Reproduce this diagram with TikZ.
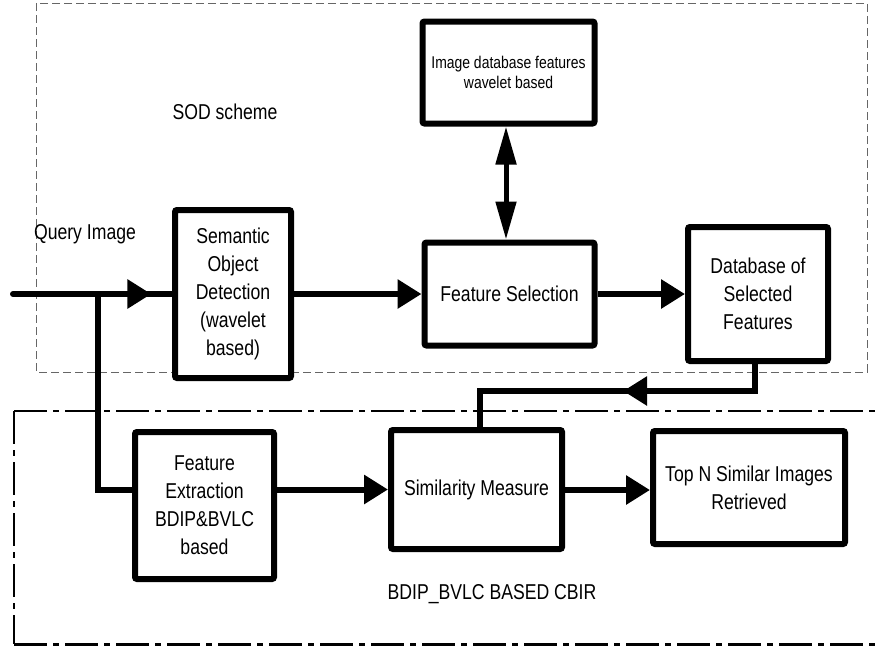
\documentclass[tikz,border=0pt]{standalone}
\usepackage{fontspec}
\setmainfont{Liberation Sans}[FakeStretch=0.82]
\usetikzlibrary{arrows.meta,decorations.markings}
\begin{document}
\begin{tikzpicture}[x=1pt,y=-1pt,
  box/.style={draw, line width=6pt, rounded corners=2pt, align=center, inner sep=0pt, fill=white,
    font=\fontsize{21.5}{28}\selectfont},
  conn/.style={line width=6pt},
  harrow/.style={-{Triangle[length=24pt,width=28pt]}},
  midleft/.style={postaction={decorate,decoration={markings,
    mark=at position #1 with {\arrow{Triangle[length=24pt,width=28pt]}}}}},
  varrow/.style={{Triangle[length=38pt,width=20pt]}-{Triangle[length=38pt,width=20pt]}, line width=5pt},
  lbl/.style={font=\fontsize{21.5}{28}\selectfont, inner sep=0pt}
]
\useasboundingbox (0,0) rectangle (877,646);
% SOD dashed region
\draw[gray!80!black, line width=1pt, dash pattern=on 8pt off 4pt] (36,3) rectangle (867,372);
% CBIR dash-dot region
\draw[line width=2.5pt, dash pattern=on 33pt off 6pt on 6pt off 6pt] (14,411) -- (877,411);
\draw[line width=1.3pt, dash pattern=on 33pt off 6pt on 6pt off 6pt] (14,411) -- (14,644);
\draw[line width=3pt, dash pattern=on 33pt off 6pt on 6pt off 6pt] (14,644) -- (877,644);

% labels
\node[lbl] (sodlbl) at (225,112) {SOD scheme};
\node[lbl] (qlbl) at (85,234) {Query Image};
\node[lbl] (cbirlbl) at (492,594) {BDIP\_BVLC BASED CBIR};

% boxes
\node[box, minimum width=172pt, minimum height=102pt, font=\fontsize{17}{20}\selectfont] (img) at (508.5,72.5) {Image database features\\wavelet based};
\node[box, minimum width=170pt, minimum height=103pt] (fs) at (509.5,294) {Feature Selection};
\node[box, minimum width=140pt, minimum height=134pt] (db) at (758,294) {Database of\\Selected\\Features};
\node[box, minimum width=116pt, minimum height=168pt] (sod) at (233,294) {Semantic\\Object\\Detection\\(wavelet\\based)};
\node[box, minimum width=139pt, minimum height=147pt] (fe) at (204.5,505.5) {Feature\\Extraction\\BDIP\&BVLC\\based};
\node[box, minimum width=171pt, minimum height=119pt] (sim) at (476.5,489.5) {Similarity Measure};
\node[box, minimum width=192pt, minimum height=113pt] (top) at (749,487.5) {Top N Similar Images\\Retrieved};

% connectors
\coordinate (q) at (13,294);
\coordinate (br) at (97.7,294);
\draw[conn, line cap=round, midleft=0.87] (q) -- (sod.west);
\draw[conn] (br) |- (fe.west |- sim.west);
\draw[conn, harrow] (sod.east) -- (fs.west);
\draw[conn, harrow] (fs.east) -- (db.west);
\draw[varrow] (img.south -| 506,0) -- (fs.north -| 506,0);
\draw[conn, midleft=0.47] (db.south -| 755,0) -- (755,391) -- (480,391) -- (sim.north -| 480,0);
\draw[conn, harrow] (fe.east |- sim.west) -- (sim.west);
\draw[conn, harrow] (sim.east |- 0,490) -- (top.west |- 0,490);
\end{tikzpicture}
\end{document}
